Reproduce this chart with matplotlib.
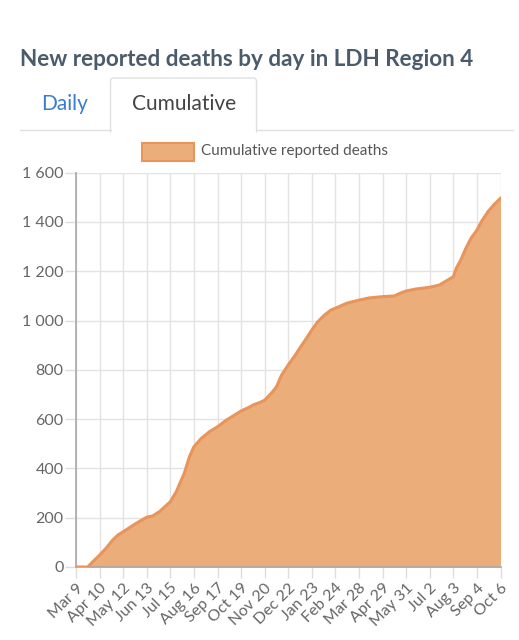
import matplotlib
matplotlib.use("Agg")
import matplotlib.pyplot as plt
import matplotlib.dates as mdates
from matplotlib.patches import FancyBboxPatch, Rectangle
from matplotlib.lines import Line2D
import numpy as np
import pandas as pd

plt.rcParams['font.family'] = ['Lato', 'DejaVu Sans']

# ---- data ----
dates = ["2020-03-09", "2020-03-25", "2020-04-01", "2020-04-10", "2020-04-19", "2020-04-28",
         "2020-05-05", "2020-05-12", "2020-05-30", "2020-06-13", "2020-06-21", "2020-06-30",
         "2020-07-15", "2020-07-23", "2020-08-03", "2020-08-10", "2020-08-16", "2020-08-26",
         "2020-09-06", "2020-09-17", "2020-09-29", "2020-10-19", "2020-10-31", "2020-11-04",
         "2020-11-13", "2020-11-20", "2020-11-29", "2020-12-06", "2020-12-13", "2020-12-22",
         "2020-12-30", "2021-01-08", "2021-01-17", "2021-01-23", "2021-01-31", "2021-02-09",
         "2021-02-18", "2021-02-24", "2021-03-11", "2021-03-28", "2021-04-11", "2021-04-29",
         "2021-05-15", "2021-05-22", "2021-05-31", "2021-06-13", "2021-07-02", "2021-07-15",
         "2021-07-24", "2021-08-03", "2021-08-07", "2021-08-13", "2021-08-20", "2021-08-27",
         "2021-09-04", "2021-09-10", "2021-09-19", "2021-09-28", "2021-10-06"]
cumulative_deaths = [0, 0, 22, 48, 77, 110,
                     130, 143, 178, 202, 207, 224,
                     265, 305, 381, 448, 488, 522,
                     549, 569, 596, 633, 650, 657,
                     667, 677, 705, 731, 779, 820,
                     853, 894, 934, 962, 995, 1022,
                     1043, 1050, 1070, 1083, 1092, 1097,
                     1100, 1110, 1120, 1128, 1135, 1144,
                     1160, 1178, 1212, 1245, 1293, 1334,
                     1367, 1401, 1442, 1473, 1496]
tick_dates = ["2020-03-09", "2020-04-10", "2020-05-12", "2020-06-13", "2020-07-15", "2020-08-16",
              "2020-09-17", "2020-10-19", "2020-11-20", "2020-12-22", "2021-01-23", "2021-02-24",
              "2021-03-28", "2021-04-29", "2021-05-31", "2021-07-02", "2021-08-03", "2021-09-04",
              "2021-10-06"]
tick_labels = ["Mar 9", "Apr 10", "May 12", "Jun 13", "Jul 15", "Aug 16", "Sep 17", "Oct 19",
               "Nov 20", "Dec 22", "Jan 23", "Feb 24", "Mar 28", "Apr 29", "May 31", "Jul 2",
               "Aug 3", "Sep 4", "Oct 6"]
y_ticks = [0, 200, 400, 600, 800, 1000, 1200, 1400, 1600]
y_labels = ["0", "200", "400", "600", "800", "1 000", "1 200", "1 400", "1 600"]

title = "New reported deaths by day in LDH Region 4"
series_name = "Cumulative reported deaths"

# ---- figure ----
W, H = 519, 640
fig = plt.figure(figsize=(W / 100, H / 100), dpi=100)
fig.patch.set_facecolor("white")

def fx(px):
    return px / W

def fy(py):
    return 1 - py / H

ax_left, ax_right, ax_top, ax_bottom = 76, 500.5, 172.7, 567
ax = fig.add_axes([fx(ax_left), fy(ax_bottom), fx(ax_right - ax_left), (ax_bottom - ax_top) / H])

x = pd.to_datetime(dates)
y = np.array(cumulative_deaths)
fill_color = "#ebae7b"
line_color = "#e8945a"
ax.fill_between(x, 0, y, color=fill_color, linewidth=0, zorder=2)
ax.plot(x, y, color=line_color, linewidth=2.2, solid_joinstyle="round", zorder=3)

xt = pd.to_datetime(tick_dates)
ax.set_xlim(xt[0], xt[-1])
ax.set_ylim(0, 1600)
ax.set_xticks(xt)
ax.set_xticklabels(tick_labels, rotation=45, ha="right", va="top", rotation_mode="anchor")
ax.set_yticks(y_ticks)
ax.set_yticklabels(y_labels)
ax.grid(True, color="#e3e3e3", linewidth=1.0, zorder=0)
ax.set_axisbelow(True)
for s in ["top", "right"]:
    ax.spines[s].set_visible(False)
for s in ["left", "bottom"]:
    ax.spines[s].set_color("#a8a8a8")
    ax.spines[s].set_linewidth(1.2)
ax.tick_params(axis="both", colors="#dddddd", length=8, width=1.0, labelcolor="#666666",
               labelsize=11.5)
ax.tick_params(axis="x", pad=2)
ax.tick_params(axis="y", pad=1)

# ---- title ----
fig.text(fx(20), fy(59), title, fontsize=16.2, fontweight="bold", color="#4a5b6b",
         ha="left", va="center")

# ---- tabs ----
line_y = fy(130)
fig.add_artist(Line2D([fx(20), fx(110.5)], [line_y, line_y], color="#e0e0e0", lw=1.0))
fig.add_artist(Line2D([fx(256.5), fx(513)], [line_y, line_y], color="#e0e0e0", lw=1.0))
tab = FancyBboxPatch((fx(110.5), fy(134)), fx(146), (134 - 78) / H,
                     boxstyle="round,pad=0,rounding_size=0.006",
                     facecolor="white", edgecolor="#e0e0e0", linewidth=1.0,
                     transform=fig.transFigure)
fig.add_artist(tab)
fig.add_artist(Rectangle((fx(111.2), fy(135)), fx(144.6), 5 / H, facecolor="white",
                         edgecolor="none", transform=fig.transFigure))
fig.text(fx(65), fy(104), "Daily", fontsize=15, color="#3a7bd5", ha="center", va="center")
fig.text(fx(184), fy(104), "Cumulative", fontsize=15, color="#444444", ha="center", va="center")

# ---- legend ----
fig.add_artist(Rectangle((fx(141.5), fy(160.5)), fx(52.5), 18 / H, facecolor=fill_color,
                         edgecolor=line_color, linewidth=1.5, transform=fig.transFigure))
fig.text(fx(201), fy(151.5), series_name, fontsize=11, color="#555555", ha="left", va="center")

fig.savefig("out.png", dpi=100)
